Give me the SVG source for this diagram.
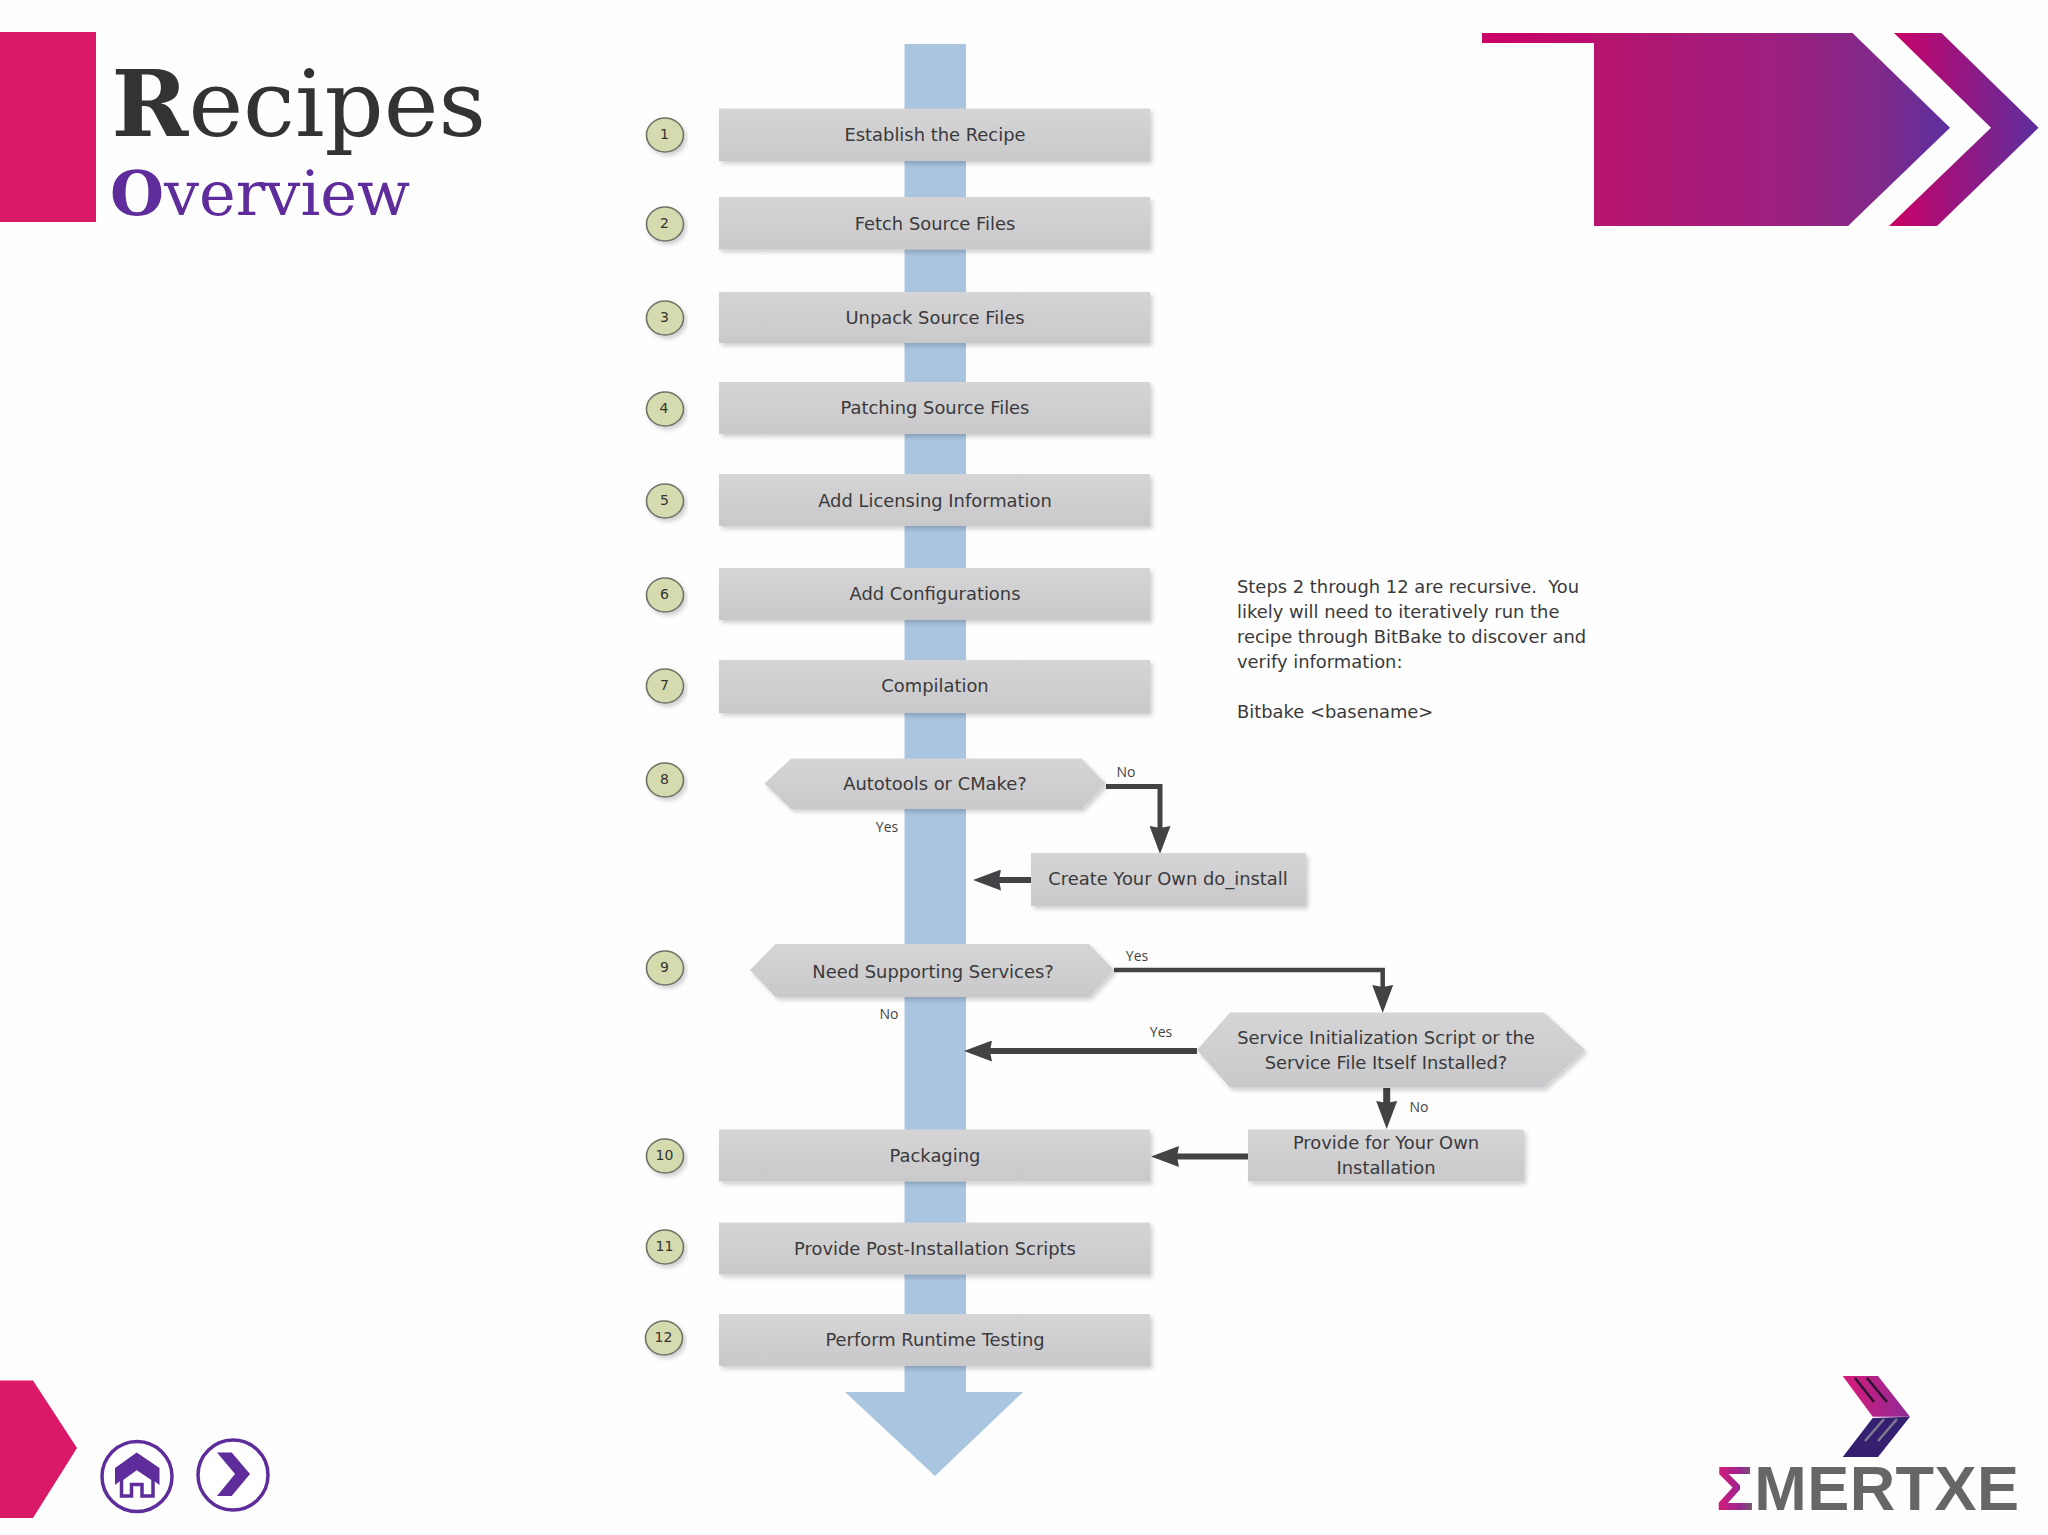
<svg xmlns="http://www.w3.org/2000/svg" width="2048" height="1535" viewBox="0 0 2048 1535">
<style>
.box{fill:url(#boxg);filter:url(#sh)}
.lbl{font-family:"DejaVu Sans","Liberation Sans",sans-serif;font-size:17.9px;fill:#3a3a3c;text-anchor:middle}
.small{font-family:"Open Sans","Liberation Sans",sans-serif;font-size:14px;fill:#444;text-anchor:middle}
.num{font-family:"DejaVu Sans","Liberation Sans",sans-serif;font-size:14px;fill:#333;text-anchor:middle}
.note{font-family:"DejaVu Sans","Liberation Sans",sans-serif;font-size:17.9px;fill:#3a3a3c;white-space:pre}
.badge{fill:#d5dbae;stroke:#6f7367;stroke-width:1.6;filter:url(#sh)}
.conn{fill:none;stroke:#434345;stroke-linejoin:miter;marker-end:url(#head)}
.title{font-family:"DejaVu Serif","Liberation Serif",serif}
.pink{fill:#db1969}
.ring{fill:#fff;stroke:#5f2d9b;stroke-width:3.5}
.pur{fill:#5f2d9b}
</style>
<defs>
<linearGradient id="boxg" x1="0" y1="0" x2="0" y2="1"><stop offset="0" stop-color="#d6d5d6"/><stop offset="1" stop-color="#c9c8ca"/></linearGradient>
<linearGradient id="grad" gradientUnits="userSpaceOnUse" x1="1594" y1="0" x2="1950" y2="0"><stop offset="0" stop-color="#b8146f"/><stop offset="0.5" stop-color="#9f1f80"/><stop offset="0.8" stop-color="#802a8a"/><stop offset="1" stop-color="#5b2f9e"/></linearGradient>
<linearGradient id="grad0" gradientUnits="userSpaceOnUse" x1="1482" y1="0" x2="1700" y2="0"><stop offset="0" stop-color="#cc0066"/><stop offset="1" stop-color="#a81c7c"/></linearGradient>
<linearGradient id="grad2" gradientUnits="userSpaceOnUse" x1="1889" y1="0" x2="2039" y2="0"><stop offset="0" stop-color="#cc0066"/><stop offset="1" stop-color="#5b2f9e"/></linearGradient>
<linearGradient id="logoU" gradientUnits="userSpaceOnUse" x1="1843" y1="0" x2="1910" y2="0"><stop offset="0" stop-color="#d81b78"/><stop offset="1" stop-color="#8d2a98"/></linearGradient>
<linearGradient id="sig" gradientUnits="userSpaceOnUse" x1="1717" y1="0" x2="1755" y2="0"><stop offset="0" stop-color="#d81b78"/><stop offset="0.6" stop-color="#9a2590"/><stop offset="1" stop-color="#666"/></linearGradient>
<filter id="sh" x="-10%" y="-20%" width="120%" height="150%"><feDropShadow dx="2.5" dy="3" stdDeviation="2" flood-color="#000" flood-opacity="0.18"/></filter>
<marker id="head" markerUnits="userSpaceOnUse" viewBox="0 0 28 21" markerWidth="28" markerHeight="21" refX="2" refY="10.5" orient="auto"><path d="M0,0L28,10.5L0,21L2,10.5z" fill="#434345"/></marker>
</defs>
<rect width="2048" height="1535" fill="#fefefe"/>

<g id="header">
<rect class="pink" x="0" y="32" width="96" height="190"/>
<text class="title" x="111.500" y="136" font-size="92.500" fill="#333"><tspan font-weight="700">R</tspan>ecipes</text>
<text class="title" x="110" y="215" font-size="62" fill="#5f2d9b"><tspan font-weight="700">O</tspan>verview</text>
<polygon points="1482,33 1852.5,33 1852.5,43 1482,43" fill="url(#grad0)"/>
<polygon points="1594,33 1852.5,33 1950,127.7 1848,226 1594,226" fill="url(#grad)"/>
<polygon points="1894,33 1941.5,33 2038.6,127.7 1937,226 1889,226 1991,127.7" fill="url(#grad2)"/>
</g>

<g id="connectors">
<polygon id="spine" points="904.500,44 966,44 966,1392 1023,1392 935,1476 845,1392 904.500,1392" fill="#aac5e0"/>
<path class="conn" stroke-width="5" d="M1106,786.5H1160V828"/>
<path class="conn" stroke-width="6" d="M1031,880H999"/>
<path class="conn" stroke-width="4.500" d="M1114,970H1382.7V987"/>
<path class="conn" stroke-width="6" d="M1197,1051H990"/>
<path class="conn" stroke-width="7" d="M1386.7,1088V1103"/>
<path class="conn" stroke-width="6" d="M1248,1156.5H1177"/>
</g>

<g id="step1"><rect class="box" x="719" y="108.5" width="431" height="52.5"/><text class="lbl" x="935" y="141">Establish the Recipe</text></g>
<g id="step2"><rect class="box" x="719" y="197" width="431" height="52.5"/><text class="lbl" x="935" y="230">Fetch Source Files</text></g>
<g id="step3"><rect class="box" x="719" y="292" width="431" height="51"/><text class="lbl" x="935" y="323.500">Unpack Source Files</text></g>
<g id="step4"><rect class="box" x="719" y="382" width="431" height="52"/><text class="lbl" x="935" y="414">Patching Source Files</text></g>
<g id="step5"><rect class="box" x="719" y="474" width="431" height="52"/><text class="lbl" x="935" y="507">Add Licensing Information</text></g>
<g id="step6"><rect class="box" x="719" y="568" width="431" height="52"/><text class="lbl" x="935" y="600">Add Configurations</text></g>
<g id="step7"><rect class="box" x="719" y="660" width="431" height="53"/><text class="lbl" x="935" y="692">Compilation</text></g>
<g id="step8"><polygon class="box" points="764.5,783.500 791,758.500 1081.500,758.500 1105.500,783.500 1081.500,809 791,809"/><text class="lbl" x="935" y="790">Autotools or CMake?</text></g>
<g id="create"><rect class="box" x="1031" y="853" width="275" height="53"/><text class="lbl" x="1168" y="885">Create Your Own do_install</text></g>
<g id="step9"><polygon class="box" points="750,970 775.500,944 1089,944 1114,970 1089,997 775.500,997"/><text class="lbl" x="933" y="978">Need Supporting Services?</text></g>
<g id="service"><polygon class="box" points="1197,1050 1230,1012.500 1544,1012.500 1585,1050 1544,1087.500 1230,1087.500"/><text class="lbl" x="1386" y="1044">Service Initialization Script or the</text><text class="lbl" x="1386" y="1068.500">Service File Itself Installed?</text></g>
<g id="provide"><rect class="box" x="1248" y="1129.500" width="276" height="52"/><text class="lbl" x="1386" y="1149">Provide for Your Own</text><text class="lbl" x="1386" y="1174">Installation</text></g>
<g id="step10"><rect class="box" x="719" y="1129.500" width="431" height="52"/><text class="lbl" x="935" y="1161.500">Packaging</text></g>
<g id="step11"><rect class="box" x="719" y="1222.500" width="431" height="52"/><text class="lbl" x="935" y="1254.500">Provide Post-Installation Scripts</text></g>
<g id="step12"><rect class="box" x="719" y="1314" width="431" height="52"/><text class="lbl" x="935" y="1346">Perform Runtime Testing</text></g>

<g id="badges">
<g id="b1"><ellipse class="badge" cx="665" cy="135" rx="18.500" ry="17"/><text class="num" x="664.500" y="139">1</text></g>
<g id="b2"><ellipse class="badge" cx="665" cy="224" rx="18.500" ry="17"/><text class="num" x="664.500" y="228">2</text></g>
<g id="b3"><ellipse class="badge" cx="665" cy="318" rx="18.500" ry="17"/><text class="num" x="664.500" y="322">3</text></g>
<g id="b4"><ellipse class="badge" cx="665" cy="409" rx="18.500" ry="17"/><text class="num" x="664" y="413">4</text></g>
<g id="b5"><ellipse class="badge" cx="665" cy="501" rx="18.500" ry="17"/><text class="num" x="664.500" y="505">5</text></g>
<g id="b6"><ellipse class="badge" cx="665" cy="595" rx="18.500" ry="17"/><text class="num" x="664.500" y="599">6</text></g>
<g id="b7"><ellipse class="badge" cx="665" cy="686" rx="18.500" ry="17"/><text class="num" x="664.500" y="690">7</text></g>
<g id="b8"><ellipse class="badge" cx="665" cy="780" rx="18.500" ry="17"/><text class="num" x="664.500" y="784">8</text></g>
<g id="b9"><ellipse class="badge" cx="665" cy="968" rx="18.500" ry="17"/><text class="num" x="664.500" y="972">9</text></g>
<g id="b10"><ellipse class="badge" cx="665" cy="1156" rx="18.500" ry="17"/><text class="num" x="664.500" y="1160">10</text></g>
<g id="b11"><ellipse class="badge" cx="665" cy="1247" rx="18.500" ry="17"/><text class="num" x="664.500" y="1251">11</text></g>
<g id="b12"><ellipse class="badge" cx="664" cy="1338" rx="18.500" ry="17"/><text class="num" x="663.500" y="1342">12</text></g>
</g>

<g id="edge-labels">
<text class="small" x="1126" y="777">No</text>
<text class="small" x="887" y="832">Yes</text>
<text class="small" x="1137" y="961">Yes</text>
<text class="small" x="889" y="1019">No</text>
<text class="small" x="1161" y="1037">Yes</text>
<text class="small" x="1419" y="1112">No</text>
</g>

<g id="note">
<text class="note" x="1237" y="593">Steps 2 through 12 are recursive.  You</text>
<text class="note" x="1237" y="618">likely will need to iteratively run the</text>
<text class="note" x="1237" y="643">recipe through BitBake to discover and</text>
<text class="note" x="1237" y="668">verify information:</text>
<text class="note" x="1237" y="718">Bitbake &lt;basename&gt;</text>
</g>

<g id="footer">
<polygon class="pink" points="0,1380.500 33,1380.500 77,1448 33,1518 0,1518"/>
</g>
<g id="home">
<circle class="ring" cx="137" cy="1476.500" r="35"/>
<polygon class="pur" points="136.700,1452.500 159.500,1468 159.500,1485 136.700,1468 115,1485 115,1468"/>
<path d="M136.700,1468L121.500,1479V1496H131.500V1484.500H142V1496H153V1479z" fill="#fff" stroke="#5f2d9b" stroke-width="3.500"/>
</g>
<g id="next">
<circle class="ring" cx="233" cy="1475" r="35"/>
<polygon class="pur" points="217,1452.500 231.700,1452.500 250,1474 231.700,1496 217,1496 235,1474"/>
</g>
<g id="logo">
<polygon points="1842.700,1376 1878,1376 1910,1416.700 1872.700,1416.700" fill="url(#logoU)"/>
<polygon points="1910,1416.700 1878,1457 1842.700,1457 1872.700,1418" fill="#35206f"/>
<path d="M1855,1378L1874,1402M1867,1378L1887,1402" stroke="#2a1330" stroke-width="2.500" fill="none"/>
<path d="M1865,1441L1884,1419M1878,1441L1897,1419" stroke="#7f7a92" stroke-width="2.500" fill="none"/>
<text x="1716" y="1510" font-family="Liberation Sans, sans-serif" font-weight="700" font-size="63" fill="#666" textLength="303"><tspan fill="url(#sig)">Σ</tspan>MERTXE</text>
</g>
</svg>
